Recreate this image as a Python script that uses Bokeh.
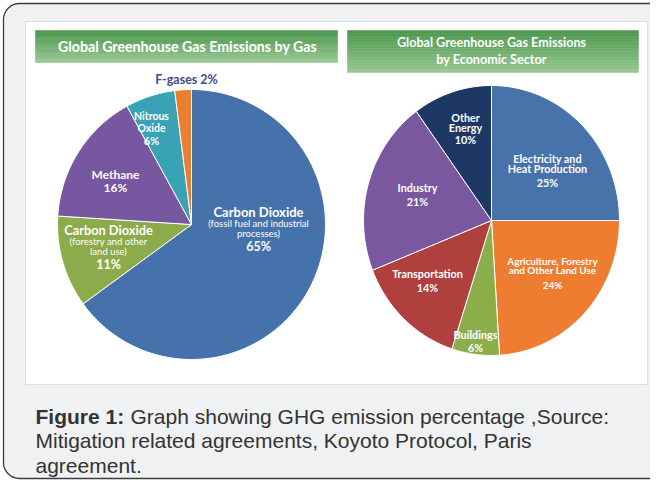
import numpy as np
from bokeh.plotting import figure
from bokeh.models import BoxAnnotation
from bokeh.core.properties import value
from bokeh.embed import file_html
from bokeh.resources import INLINE

# ---------------- data ----------------
gas_names = [["Carbon Dioxide", "(fossil fuel and industrial", "processes)"],
             ["Carbon Dioxide", "(forestry and other", "land use)"],
             ["Methane"],
             ["Nitrous", "Oxide"],
             ["F-gases"]]
gas_values = [65, 11, 16, 6, 2]

sector_names = [["Electricity and", "Heat Production"],
                ["Agriculture, Forestry", "and Other Land Use"],
                ["Buildings"],
                ["Transportation"],
                ["Industry"],
                ["Other", "Energy"]]
sector_values = [25, 24, 6, 14, 21, 10]

title_left = "Global Greenhouse Gas Emissions by Gas"
title_right = ["Global Greenhouse Gas Emissions", "by Economic Sector"]
caption_bold = "Figure 1:"
caption_lines = ["Graph showing GHG emission percentage ,Source:",
                 "Mitigation related agreements, Koyoto Protocol, Paris",
                 "agreement."]

# ---------------- styles / layout ----------------
gas_colors = ["#4672ab", "#8cab4a", "#7657a0", "#3aa2b5", "#ea7f2f"]
sector_colors = ["#4773aa", "#ee7d31", "#8bae4b", "#b0403e", "#7a58a0", "#1e3866"]

W, H = 650, 480
def fy(py):
    return 488 - py
def fx(px):
    return px - 8

p = figure(width=W, height=H, x_range=(0, W), y_range=(0, H),
           output_backend="svg", toolbar_location=None, min_border=0)
p.axis.visible = False
p.grid.visible = False
p.outline_line_color = None
p.background_fill_color = "white"
p.border_fill_color = "white"

# outer rounded box
p.add_layout(BoxAnnotation(left=fx(11), right=fx(720), top=fy(11), bottom=fy(486),
                           fill_color="#f0f1f3", fill_alpha=1.0,
                           line_color="#3c3c3c", line_alpha=1.0, line_width=1.3,
                           border_radius=16, level="underlay"))

# inner white panel
p.quad(left=fx(33), right=fx(655), top=fy(29), bottom=fy(392),
       fill_color="white", line_color="#dedede", line_width=1)

# green gradient banners
def banner(x0, x1, y0, y1, n=14):
    top_c = np.array([0x4d, 0x98, 0x4e])
    bot_c = np.array([0x95, 0xc6, 0x91])
    edges = np.linspace(y0, y1, n + 1)
    cols = []
    for i in range(n):
        t = i / (n - 1)
        c = (top_c * (1 - t) + bot_c * t).astype(int)
        cols.append("#%02x%02x%02x" % tuple(c))
    p.quad(left=[fx(x0)] * n, right=[fx(x1)] * n,
           top=[fy(e) for e in edges[:-1]], bottom=[fy(e) for e in edges[1:]],
           fill_color=cols, line_color=cols, line_width=0.5)

banner(43, 345, 38, 70)
banner(355, 646, 38, 80)

FONT = value("Lato")
p.text(x=[fx(195)], y=[fy(54)], text=[title_left], text_font=FONT,
       text_font_style="bold", text_font_size="14.2px", text_color="white",
       text_align="center", text_baseline="middle")
p.text(x=[fx(499), fx(499)], y=[fy(50), fy(67)], text=title_right, text_font=FONT,
       text_font_style="bold", text_font_size="12.6px", text_color="white",
       text_align="center", text_baseline="middle")

# pies (clockwise from 12 o'clock), slightly elliptical as in the source image
def pie(cx, cy, rx, ry, vals, cols):
    v = np.array(vals, dtype=float)
    cum = np.cumsum(v) / v.sum()
    prev = np.concatenate([[0.0], cum[:-1]])
    xs, ys = [], []
    for a0, a1 in zip(prev, cum):
        n = max(4, int(200 * (a1 - a0)))
        t = np.pi / 2 - 2 * np.pi * np.linspace(a0, a1, n)
        xs.append(np.concatenate([[fx(cx)], fx(cx) + rx * np.cos(t)]))
        ys.append(np.concatenate([[fy(cy)], fy(cy) + ry * np.sin(t)]))
    p.patches(xs=xs, ys=ys, fill_color=cols, line_color="white", line_width=1)

pie(199, 232, 134, 135, gas_values, gas_colors)
pie(499, 228, 128, 135, sector_values, sector_colors)

# labels: positions per slice (page coords), line y's, sizes, weights
gas_label_x = [266, 116, 123, 159, 194]
gas_label_y = [[219, 231, 241, 254], [237, 249, 259, 272], [182, 195], [123, 135, 148], [87]]
gas_label_sz = [[13, 9.5, 9.5, 12.5], [12.8, 9.5, 9.5, 12.5], [12, 12], [10.5, 10.5, 11], [12.5]]
gas_label_wt = [["bold", "normal", "normal", "bold"], ["bold", "normal", "normal", "bold"],
                ["bold", "bold"], ["bold", "bold", "bold"], ["bold"]]

for i, (names, v) in enumerate(zip(gas_names, gas_values)):
    if i == 4:
        lines = [names[0] + " %d%%" % v]
        color = "#3d4c8d"
    else:
        lines = names + ["%d%%" % v]
        color = "white"
    for ln, yy, sz, wt in zip(lines, gas_label_y[i], gas_label_sz[i], gas_label_wt[i]):
        p.text(x=[fx(gas_label_x[i])], y=[fy(yy)], text=[ln], text_font=FONT,
               text_font_style=wt, text_font_size="%spx" % sz, text_color=color,
               text_align="center", text_baseline="middle")

sec_label_x = [555, 560, 483, 435, 425, 473]
sec_label_y = [[166, 176, 190], [268, 277, 292], [342, 355], [281, 295], [195, 209], [125, 135, 147]]
sec_label_sz = [10.8, 9.9, 10.8, 10.8, 10.8, 10.8]
for i, (names, v) in enumerate(zip(sector_names, sector_values)):
    lines = names + ["%d%%" % v]
    for ln, yy in zip(lines, sec_label_y[i]):
        p.text(x=[fx(sec_label_x[i])], y=[fy(yy)], text=[ln], text_font=FONT,
               text_font_style="bold", text_font_size="%spx" % sec_label_sz[i],
               text_color="white", text_align="center", text_baseline="middle")

# caption
CAP = value("Liberation Sans")
p.text(x=[fx(43)], y=[fy(424)], text=[caption_bold], text_font=CAP,
       text_font_style="bold", text_font_size="21px", text_color="#333333",
       text_align="left", text_baseline="middle")
p.text(x=[fx(138), fx(43), fx(43)], y=[fy(424), fy(448), fy(473)], text=caption_lines,
       text_font=CAP, text_font_size="21px", text_color="#333333",
       text_align="left", text_baseline="middle")

open("out.html", "w").write(file_html(p, INLINE))
